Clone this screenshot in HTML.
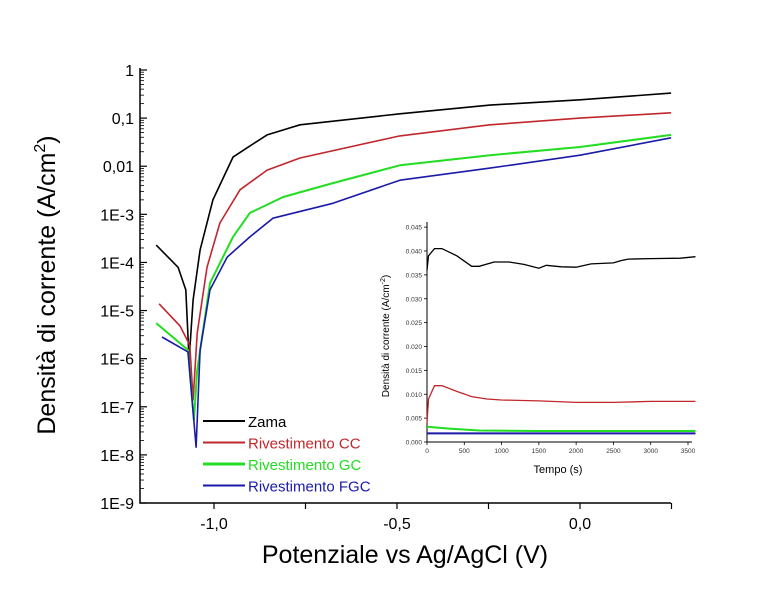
<!DOCTYPE html>
<html><head><meta charset="utf-8"><style>
body{margin:0;background:#fff;}
svg{display:block;font-family:"Liberation Sans",sans-serif;}
</style></head><body>
<svg id="c" width="779" height="602" viewBox="0 0 779 602" xmlns="http://www.w3.org/2000/svg">
<rect width="779" height="602" fill="#fff"/>
<g id="main"></g>
<g id="inset"></g>
</svg>
<script>
// Main chart data: potential (V) and log10 current density
const zamaV=[-1.158,-1.098,-1.077,-1.068,-1.057,-1.038,-1.003,-0.948,-0.910,-0.855,-0.765,-0.492,-0.246,0.0,0.249];
const zamaLog=[-3.64,-4.10,-4.57,-6.03,-4.78,-3.74,-2.70,-1.81,-1.62,-1.35,-1.14,-0.91,-0.73,-0.62,-0.48];
const ccV=[-1.150,-1.093,-1.066,-1.057,-1.046,-1.019,-0.984,-0.929,-0.855,-0.765,-0.492,-0.246,0.0,0.249];
const ccLog=[-4.86,-5.32,-5.72,-6.86,-5.47,-4.10,-3.18,-2.49,-2.08,-1.83,-1.37,-1.14,-1.00,-0.89];
const gcV=[-1.158,-1.071,-1.055,-1.046,-1.011,-0.948,-0.902,-0.811,-0.675,-0.492,-0.246,0.0,0.249];
const gcLog=[-5.26,-5.82,-7.28,-6.24,-4.43,-3.47,-2.97,-2.64,-2.35,-1.98,-1.77,-1.60,-1.35];
const fgcV=[-1.142,-1.071,-1.049,-1.038,-1.011,-0.964,-0.902,-0.839,-0.675,-0.492,-0.246,0.0,0.249];
const fgcLog=[-5.55,-5.86,-7.84,-5.82,-4.57,-3.89,-3.47,-3.08,-2.77,-2.29,-2.04,-1.77,-1.41];
const yTickLabels=["1","0,1","0,01","1E-3","1E-4","1E-5","1E-6","1E-7","1E-8","1E-9"];
const xTickVals=[-1.0,-0.5,0.0];
const xTickLabels=["-1,0","-0,5","0,0"];
const legendNames=["Zama","Rivestimento CC","Rivestimento GC","Rivestimento FGC"];
// Inset data: time (s) and current density (A/cm2)
const iZamaT=[0,20,100,200,400,600,700,900,1100,1300,1500,1600,1800,2000,2200,2500,2600,2700,3000,3400,3600];
const iZamaV=[0.036,0.039,0.0405,0.0405,0.039,0.0368,0.0368,0.0377,0.0377,0.0372,0.0364,0.0370,0.0367,0.0366,0.0373,0.0375,0.0380,0.0383,0.0384,0.0385,0.0388];
const iCCT=[0,20,100,200,400,600,800,1000,1500,2000,2500,3000,3600];
const iCCV=[0.004,0.009,0.0118,0.0118,0.0106,0.0095,0.0090,0.0088,0.0086,0.0083,0.0083,0.0085,0.0085];
const iGCT=[0,300,700,1500,3600];
const iGCV=[0.0032,0.0028,0.0024,0.0023,0.0023];
const iFGCT=[0,3600];
const iFGCV=[0.0018,0.0018];
const iYTicks=["0.000","0.005","0.010","0.015","0.020","0.025","0.030","0.035","0.040","0.045"];
const iXTicks=["0","500","1000","1500","2000","2500","3000","3500"];

const NS="http://www.w3.org/2000/svg";
function mk(tag,attrs,parent,text){const e=document.createElementNS(NS,tag);for(const k in attrs)e.setAttribute(k,attrs[k]);if(text!==undefined)e.textContent=text;parent.appendChild(e);return e;}
const main=document.getElementById('main');
const X=v=>214+(v+1)*366;
const Y=l=>70-l*48.11;
const colors=["#000000","#c0272d","#22dd22","#1a1aa8"];
// axes
let a=mk('path',{d:`M140 ${Y(0)-2} V${Y(-9)} H671`,stroke:'#000','stroke-width':1.5,fill:'none'},main);


for(let d=0;d<=9;d++){
  mk('line',{x1:140,x2:147,y1:Y(-d),y2:Y(-d),stroke:'#000','stroke-width':1.2},main);
  if(d<9)for(let m=2;m<=9;m++){const yy=Y(-d-1+Math.log10(m));mk('line',{x1:140,x2:144,y1:yy,y2:yy,stroke:'#000','stroke-width':0.8},main);}
  const t=mk('text',{x:134,y:Y(-d)+6,'text-anchor':'end','font-size':16},main,yTickLabels[d]);
  
  
}
for(let v=-1.0;v<=0.26;v+=0.25){mk('line',{x1:X(v),x2:X(v),y1:Y(-9),y2:Y(-9)+6,stroke:'#000','stroke-width':1.2},main);}
xTickVals.forEach((v,i)=>{const t=mk('text',{x:X(v),y:529,'text-anchor':'middle','font-size':16},main,xTickLabels[i]);
  
  });
let xt=mk('text',{x:405,y:563,'text-anchor':'middle','font-size':25},main,'Potenziale vs Ag/AgCl (V)');


let yt=mk('text',{transform:'translate(55,285) rotate(-90)','text-anchor':'middle','font-size':25},main);


yt.innerHTML='Densità di corrente (A/cm<tspan dy="-10" font-size="16">2</tspan><tspan dy="10">)</tspan>';
const series=[[zamaV,zamaLog],[ccV,ccLog],[gcV,gcLog],[fgcV,fgcLog]];
const snames=['zama','cc','gc','fgc'];
series.forEach((s,i)=>{
  const d=s[0].map((v,j)=>(j?'L':'M')+X(v).toFixed(1)+' '+Y(s[1][j]).toFixed(1)).join(' ');
  const p=mk('path',{d,stroke:colors[i],'stroke-width':i==2?2:1.6,fill:'none','stroke-linejoin':'round'},main);
  
  
});
legendNames.forEach((n,i)=>{
  const yy=421+i*21.5;
  const g=mk('g',{},main);
  
  
  mk('line',{x1:203,x2:245,y1:yy,y2:yy,stroke:colors[i],'stroke-width':i==2?3:2},g);
  mk('text',{x:248,y:yy+6,'font-size':15,fill:colors[i]},g,n);
});
// inset
const ins=document.getElementById('inset');
const IX=t=>427+t*(261/3500);
const IY=v=>442-v*(191/0.040);
let ia=mk('path',{d:`M427 222 V442 H692`,stroke:'#000','stroke-width':1,fill:'none'},ins);


iYTicks.forEach((l,i)=>{const yy=IY(i*0.005);mk('line',{x1:424,x2:427,y1:yy,y2:yy,stroke:'#000','stroke-width':0.8},ins);
  const t=mk('text',{x:422,y:yy+2.5,'text-anchor':'end','font-size':6.5,fill:'#333'},ins,l);
  
  });
iXTicks.forEach((l,i)=>{const xx=IX(i*500);mk('line',{x1:xx,x2:xx,y1:442,y2:445,stroke:'#000','stroke-width':0.8},ins);
  const t=mk('text',{x:xx,y:453,'text-anchor':'middle','font-size':6.5,fill:'#333'},ins,l);
  
  });
let ixt=mk('text',{x:558,y:473,'text-anchor':'middle','font-size':11},ins,'Tempo (s)');


let iyt=mk('text',{transform:'translate(389,336) rotate(-90)','text-anchor':'middle','font-size':10},ins);


iyt.innerHTML='Densità di corrente (A/cm<tspan dy="-4" font-size="7">-2</tspan><tspan dy="4">)</tspan>';
const iseries=[[iZamaT,iZamaV],[iCCT,iCCV],[iGCT,iGCV],[iFGCT,iFGCV]];
iseries.forEach((s,i)=>{
  const d=s[0].map((t,j)=>(j?'L':'M')+IX(t).toFixed(1)+' '+IY(s[1][j]).toFixed(1)).join(' ');
  const p=mk('path',{d,stroke:colors[i],'stroke-width':i>=2?2:1.3,fill:'none'},ins);
  
  
});
</script>
</body></html>
